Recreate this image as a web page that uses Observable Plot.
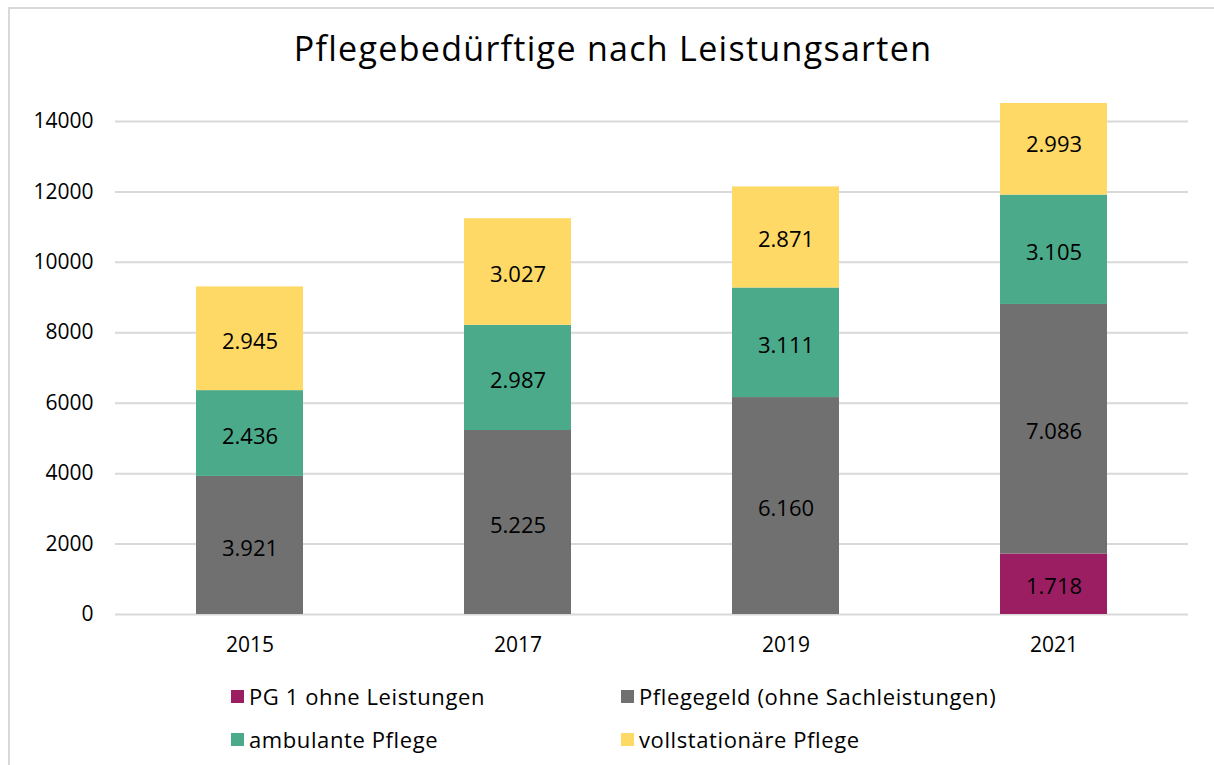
<!DOCTYPE html>
<html>
<head>
<meta charset="utf-8">
<script src="https://cdn.jsdelivr.net/npm/d3@7"></script>
<script src="https://cdn.jsdelivr.net/npm/@observablehq/plot@0.6"></script>
<style>
  html, body { margin: 0; padding: 0; background: #fff; }
  body { width: 1214px; height: 765px; position: relative; overflow: hidden; font-family: "Open Sans", sans-serif; color: #000; }
  #frame { position: absolute; left: 8px; top: 7px; width: 1220px; height: 800px; border: 2px solid #d9d9d9; box-sizing: border-box; }
  #title { position: absolute; left: 0; width: 1226px; top: 24px; text-align: center; font-size: 34px; letter-spacing: 1.3px; line-height: 48px; }
  #chart { position: absolute; left: 0; top: 80px; }
  .leg { position: absolute; font-size: 22px; letter-spacing: 0.6px; line-height: 28px; white-space: nowrap; display: flex; align-items: center; }
  .sw { width: 13px; height: 13px; margin-right: 5px; display: inline-block; }
</style>
</head>
<body>
<div id="frame"></div>
<div id="title">Pflegebedürftige nach Leistungsarten</div>
<div id="chart"></div>
<div id="legend"></div>
<script>
const years = ["2015", "2017", "2019", "2021"];
const seriesNames = ["PG 1 ohne Leistungen", "Pflegegeld (ohne Sachleistungen)", "ambulante Pflege", "vollstationäre Pflege"];
const pg1 = [0, 0, 0, 1718];
const pflegegeld = [3921, 5225, 6160, 7086];
const ambulant = [2436, 2987, 3111, 3105];
const vollstationaer = [2945, 3027, 2871, 2993];
const colors = ["#9b1e63", "#707070", "#4aaa89", "#ffd966"];
const yTicks = [0, 2000, 4000, 6000, 8000, 10000, 12000, 14000];
const yMax = 14510; // visible axis maximum (top bar clipped as in original)

const seriesValues = [pg1, pflegegeld, ambulant, vollstationaer];
const rows = [];
seriesNames.forEach((s, i) => years.forEach((y, j) => rows.push({year: y, series: s, value: seriesValues[i][j]})));

const de = d3.formatLocale({decimal: ",", thousands: ".", grouping: [3], currency: ["", " €"]});
const fmt = de.format(",");

const stackOpts = {x: "year", y: "value", z: "series", order: seriesNames};

const plot = Plot.plot({
  width: 1214,
  height: 590,
  marginLeft: 115,
  marginRight: 26,
  marginTop: 23,
  marginBottom: 56,
  style: {fontFamily: "Open Sans, sans-serif", fontSize: "21px", color: "#000", background: "transparent"},
  x: {domain: years, paddingInner: 0.6, paddingOuter: 0.3, label: null, tickSize: 0, tickPadding: 23},
  y: {domain: [0, yMax], ticks: yTicks, tickFormat: d => String(d), label: null, tickSize: 0, tickPadding: 22},
  color: {domain: seriesNames, range: colors},
  marks: [
    Plot.gridY(yTicks, {stroke: "#d9d9d9", strokeOpacity: 1, strokeWidth: 2}),
    Plot.barY(rows, Plot.stackY({...stackOpts, fill: "series", clip: true})),
    Plot.text(rows, Plot.stackY({...stackOpts, text: d => d.value ? fmt(d.value) : "", fill: "#000", fontSize: 22, dy: 3, style: "letter-spacing:0.6px"}))
  ]
});
document.getElementById("chart").appendChild(plot);

// Legend (HTML, below the SVG)
const legend = document.getElementById("legend");
const legPos = [[231, 682], [621, 682], [231, 725], [621, 725]];
seriesNames.forEach((s, i) => {
  const d = document.createElement("div");
  d.className = "leg";
  d.style.left = legPos[i][0] + "px";
  d.style.top = legPos[i][1] + "px";
  d.innerHTML = `<span class="sw" style="background:${colors[i]}"></span>${s}`;
  legend.appendChild(d);
});
</script>
</body>
</html>
